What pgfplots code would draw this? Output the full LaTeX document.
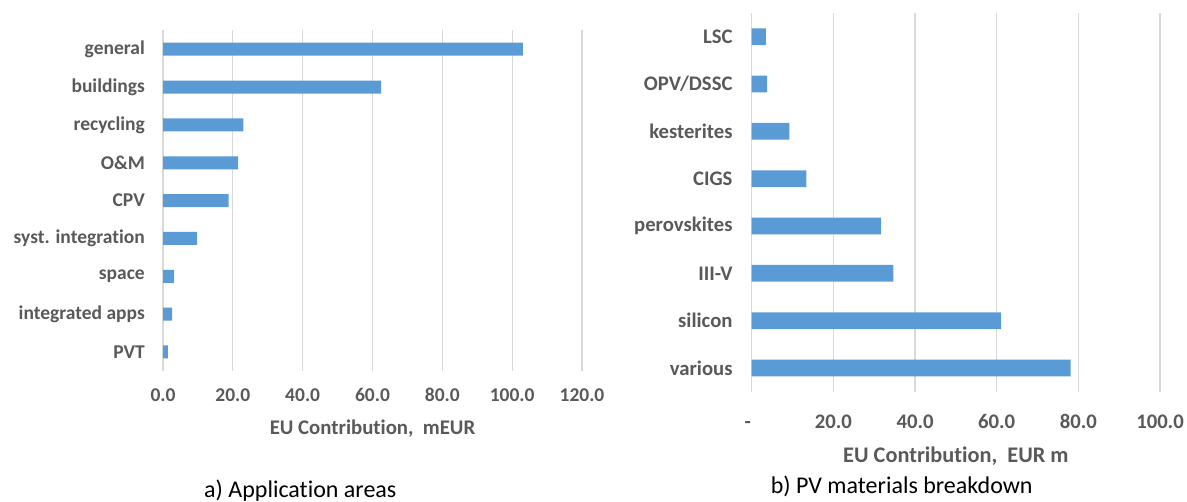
\documentclass[border=0pt]{standalone}
\usepackage{pgfplots}
\pgfplotsset{compat=1.18}
\usepackage{fontspec}
\setmainfont[Ligatures=NoCommon]{Carlito}
\definecolor{barblue}{HTML}{5B9BD5}
\definecolor{lbl}{HTML}{595959}
\definecolor{gridgray}{HTML}{D9D9D9}
\begin{document}
\begin{tikzpicture}
\path[use as bounding box] (0pt,0pt) rectangle (1187pt,502pt);
\pgfplotsset{
  mybar/.style={
    scale only axis,
    anchor=south west,
    xbar,
    axis line style={draw=none},
    tick style={draw=none},
    major tick length=0pt,
    xmajorgrids,
    ymajorgrids=false,
    major grid style={draw=gridgray, line width=1.3pt},
    ymin=-0.5,
    xmin=0,
    /pgf/number format/assume math mode=true,
    yticklabel style={anchor=east, inner sep=0pt, text=lbl},
    xticklabel style={anchor=base, inner sep=0pt, text=lbl},
    xlabel style={text=lbl, at={(axis description cs:0.5,0)}, anchor=base, inner sep=0pt},
    clip=false,
  }
}
\begin{axis}[mybar,
  at={(163pt,131.1pt)}, width=419pt, height=340.6pt,
  ymax=8.5, xmax=120,
  bar width=13pt,
  xtick={0,20,...,120},
  ytick={0,...,8},
  xticklabel={\pgfmathprintnumber[fixed,fixed zerofill,precision=1]{\tick}},
  tick label style={font=\fontsize{19.5}{22}\selectfont\bfseries},
  xticklabel style={yshift=-30.8pt},
  yticklabel style={xshift=-18pt},
  yticklabels={PVT,integrated apps,space,syst. integration,CPV,O\&M,recycling,buildings,general},
  xlabel={EU Contribution,\ \ mEUR},
  xlabel style={font=\fontsize{20.8}{24}\selectfont\bfseries, yshift=-64pt},
]
\addplot[fill=barblue, draw=none] coordinates {
(1.4,0) (2.6,1) (3.2,2) (9.8,3) (18.8,4) (21.5,5) (23.0,6) (62.5,7) (103.1,8)};
\end{axis}
\begin{axis}[mybar,
  at={(751.7pt,110.3pt)}, width=408.3pt, height=378.7pt,
  ymax=7.5, xmax=100,
  bar width=16.7pt,
  xtick={0,20,...,100},
  xticklabels={-\hspace*{8pt},20.0,40.0,60.0,80.0,100.0},
  tick label style={font=\fontsize{20.7}{24}\selectfont\bfseries},
  xticklabel style={yshift=-36.6pt},
  yticklabel style={xshift=-19pt},
  ytick={0,...,7},
  yticklabels={various,silicon,III-V,perovskites,CIGS,kesterites,OPV/DSSC,LSC},
  xlabel={EU Contribution,\ \ EUR m},
  xlabel style={font=\fontsize{22.3}{26}\selectfont\bfseries, yshift=-71pt},
]
\addplot[fill=barblue, draw=none] coordinates {
(78.1,0) (61.1,1) (34.7,2) (31.7,3) (13.4,4) (9.2,5) (3.8,6) (3.5,7)};
\end{axis}
\node[anchor=base, inner sep=0pt, font=\fontsize{24}{28}\selectfont] at (300.3pt,4pt) {a) Application areas};
\node[anchor=base, inner sep=0pt, font=\fontsize{24}{28}\selectfont] at (901.7pt,8.5pt) {b) PV materials breakdown};
\end{tikzpicture}
\end{document}
